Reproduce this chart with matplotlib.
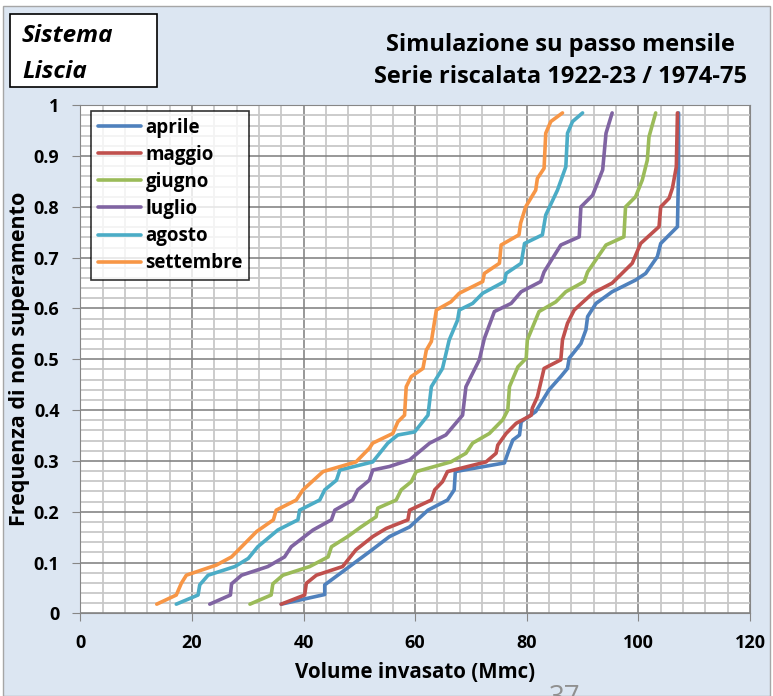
import matplotlib
matplotlib.use('Agg')
from matplotlib import pyplot as plt
from matplotlib.patches import Rectangle
from matplotlib.ticker import MultipleLocator

plt.rcParams['font.family'] = ['Open Sans', 'DejaVu Sans']
plt.rcParams['font.weight'] = 'bold'

# Dati: volume invasato (Mmc) e frequenza di non superamento
aprile_v = [36.0, 43.8, 43.8, 51.8, 55.4, 59.0, 62.3, 65.8, 67.0, 67.2, 76.0, 76.6, 77.5, 78.7, 79.0, 81.6,
            84.0, 86.1, 87.3, 87.6, 89.7, 90.6, 90.9, 92.4, 95.3, 99.5, 101.3, 103.4, 104.0, 107.0, 107.2, 107.2]
aprile_f = [0.018, 0.037, 0.056, 0.121, 0.151, 0.170, 0.203, 0.223, 0.243, 0.279, 0.296, 0.315, 0.341, 0.351,
            0.377, 0.397, 0.440, 0.466, 0.482, 0.502, 0.531, 0.558, 0.584, 0.610, 0.633, 0.656, 0.669, 0.702,
            0.728, 0.761, 0.873, 0.985]

maggio_v = [36.0, 40.2, 40.5, 42.3, 47.0, 49.4, 52.4, 54.8, 58.7, 59.0, 62.9, 63.5, 64.9, 65.8, 72.7, 74.5,
            74.8, 76.3, 78.1, 80.8, 81.0, 81.9, 83.1, 86.1, 86.4, 87.3, 88.5, 91.8, 95.3, 98.9, 100.4, 103.7,
            104.0, 105.5, 106.1, 106.8, 107.0]
maggio_f = [0.018, 0.036, 0.059, 0.075, 0.092, 0.125, 0.151, 0.167, 0.184, 0.203, 0.223, 0.243, 0.259, 0.279,
            0.298, 0.315, 0.331, 0.354, 0.374, 0.390, 0.404, 0.426, 0.482, 0.499, 0.538, 0.571, 0.597, 0.630,
            0.650, 0.689, 0.728, 0.761, 0.800, 0.817, 0.837, 0.879, 0.985]

giugno_v = [30.4, 34.2, 34.5, 36.3, 41.1, 44.4, 45.0, 47.9, 50.3, 53.0, 53.3, 56.6, 57.5, 59.3, 60.2, 66.4,
            69.1, 70.3, 73.3, 75.7, 76.6, 76.9, 78.4, 79.9, 80.1, 82.2, 85.2, 87.0, 90.3, 90.9, 94.2, 97.4,
            97.7, 99.5, 100.7, 101.6, 101.9, 103.1]
giugno_f = [0.018, 0.036, 0.058, 0.075, 0.092, 0.111, 0.131, 0.151, 0.170, 0.190, 0.207, 0.223, 0.243, 0.259,
            0.279, 0.298, 0.315, 0.335, 0.354, 0.381, 0.400, 0.446, 0.485, 0.502, 0.538, 0.594, 0.613, 0.633,
            0.653, 0.672, 0.725, 0.741, 0.800, 0.820, 0.853, 0.892, 0.938, 0.985]

luglio_v = [23.2, 26.9, 27.1, 28.9, 33.6, 36.6, 37.8, 41.7, 45.0, 45.6, 48.8, 49.7, 51.8, 52.4, 55.4, 59.0,
            62.6, 65.5, 68.5, 69.1, 71.5, 72.4, 74.2, 77.2, 79.0, 82.5, 83.1, 86.1, 89.4, 89.7, 91.8, 93.6,
            94.2, 95.3]
luglio_f = [0.018, 0.036, 0.058, 0.075, 0.092, 0.111, 0.131, 0.164, 0.184, 0.203, 0.223, 0.243, 0.262, 0.282,
            0.289, 0.302, 0.335, 0.351, 0.390, 0.446, 0.499, 0.541, 0.594, 0.610, 0.633, 0.653, 0.672, 0.725,
            0.741, 0.800, 0.823, 0.873, 0.945, 0.985]

agosto_v = [17.2, 21.1, 21.4, 22.9, 27.7, 30.1, 31.8, 35.4, 39.0, 39.3, 42.9, 43.8, 45.9, 46.5, 52.4, 55.1,
            56.9, 59.9, 62.3, 62.9, 64.9, 66.1, 67.6, 67.9, 70.3, 72.1, 76.0, 76.3, 79.0, 79.6, 82.8, 83.4,
            85.5, 87.0, 87.3, 88.2, 90.0]
agosto_f = [0.018, 0.036, 0.056, 0.075, 0.092, 0.108, 0.131, 0.164, 0.184, 0.203, 0.223, 0.243, 0.262, 0.282,
            0.298, 0.335, 0.351, 0.357, 0.390, 0.446, 0.482, 0.538, 0.577, 0.597, 0.610, 0.630, 0.653, 0.669,
            0.689, 0.728, 0.745, 0.784, 0.833, 0.879, 0.945, 0.968, 0.985]

settembre_v = [13.7, 17.2, 18.1, 19.0, 24.4, 27.1, 31.6, 34.6, 35.1, 38.7, 39.9, 43.5, 49.4, 51.8, 52.4, 56.0,
               56.9, 58.1, 58.4, 59.3, 61.4, 62.0, 62.9, 63.8, 66.4, 67.9, 72.1, 72.4, 75.1, 75.4, 78.6, 78.9,
               79.8, 81.6, 81.9, 83.1, 83.4, 84.3, 86.4]
settembre_f = [0.018, 0.036, 0.059, 0.075, 0.095, 0.111, 0.161, 0.184, 0.203, 0.223, 0.243, 0.279, 0.298,
               0.325, 0.335, 0.354, 0.377, 0.390, 0.446, 0.466, 0.482, 0.518, 0.535, 0.597, 0.613, 0.630, 0.653,
               0.669, 0.689, 0.725, 0.745, 0.768, 0.800, 0.833, 0.856, 0.876, 0.945, 0.968, 0.985]

mesi = ['aprile', 'maggio', 'giugno', 'luglio', 'agosto', 'settembre']
serie = [(aprile_v, aprile_f), (maggio_v, maggio_f), (giugno_v, giugno_f),
         (luglio_v, luglio_f), (agosto_v, agosto_f), (settembre_v, settembre_f)]
colori = ['#4F81BD', '#C0504D', '#9BBB59', '#8064A2', '#4BACC6', '#F79646']

W, H = 773, 696
fig = plt.figure(figsize=(W / 100, H / 100), dpi=100)
fig.patch.set_facecolor('white')

# sfondo azzurro con bordo
fig.patches.append(Rectangle((3 / W, 0), 767 / W, 1 - 6 / H, transform=fig.transFigure,
                             facecolor='#DCE6F2', edgecolor='#A6A6A6', lw=1, zorder=-10))

ax = fig.add_axes([80.3 / W, 1 - 613.3 / H, (750 - 80.3) / W, 508 / H])
ax.set_zorder(5)
ax.set_facecolor('white')

for (v, f), nome, c in zip(serie, mesi, colori):
    ax.plot(v, f, color=c, lw=2.6, label=nome, solid_joinstyle='round', solid_capstyle='round')

ax.set_xlim(0, 120)
ax.set_ylim(0, 1)
ax.xaxis.set_major_locator(MultipleLocator(20))
ax.xaxis.set_minor_locator(MultipleLocator(4))
ax.yaxis.set_major_locator(MultipleLocator(0.1))
ax.yaxis.set_minor_locator(MultipleLocator(0.02))
ax.grid(True, which='minor', color='#C8C8C8', lw=1.3)
ax.grid(True, which='major', color='#868686', lw=1.2)
ax.set_axisbelow(True)
for s in ax.spines.values():
    s.set_color('#868686')
ax.tick_params(which='minor', length=0)
ax.tick_params(which='major', length=6, color='#868686', labelsize=13, pad=9)
ax.set_xticks([0, 20, 40, 60, 80, 100, 120])
ax.set_yticks([i / 10 for i in range(11)])
ax.set_yticklabels(['0', '0.1', '0.2', '0.3', '0.4', '0.5', '0.6', '0.7', '0.8', '0.9', '1'])

ax.set_xlabel('Volume invasato (Mmc)', fontsize=14.8, fontweight='bold', labelpad=7)
ax.set_ylabel('Frequenza di non superamento', fontsize=15.5, fontweight='bold', labelpad=3)

leg = ax.legend(loc='upper left', bbox_to_anchor=((91 - 80.3) / 669.7, (613.3 - 111) / 508),
                frameon=True, fancybox=False, fontsize=13.5, handlelength=2.3, handletextpad=0.25,
                labelspacing=0.38, borderaxespad=0, borderpad=0.35)
leg.get_frame().set_edgecolor('black')
leg.get_frame().set_linewidth(1.2)

# titolo
fig.text(560 / W, 1 - 45 / H, 'Simulazione su passo mensile', ha='center', va='center',
         fontsize=17, fontweight='bold')
fig.text(560 / W, 1 - 77 / H, 'Serie riscalata 1922-23 / 1974-75', ha='center', va='center',
         fontsize=17, fontweight='bold')

# riquadro sistema
fig.patches.append(Rectangle((10 / W, 1 - 87 / H), 147 / W, 73 / H, transform=fig.transFigure,
                             facecolor='white', edgecolor='black', lw=1.2, zorder=1))
fig.text(22 / W, 1 - 36 / H, 'Sistema', ha='left', va='center', fontsize=17.5,
         fontweight='bold', style='italic', zorder=2)
fig.text(22 / W, 1 - 72 / H, 'Liscia', ha='left', va='center', fontsize=17.5,
         fontweight='bold', style='italic', zorder=2)

# numero di pagina
fig.text(565 / W, 1 - 684 / H, '37', ha='center', va='top', fontsize=20, color='#909090',
         fontweight='normal')

plt.savefig('out.png', dpi=100)
